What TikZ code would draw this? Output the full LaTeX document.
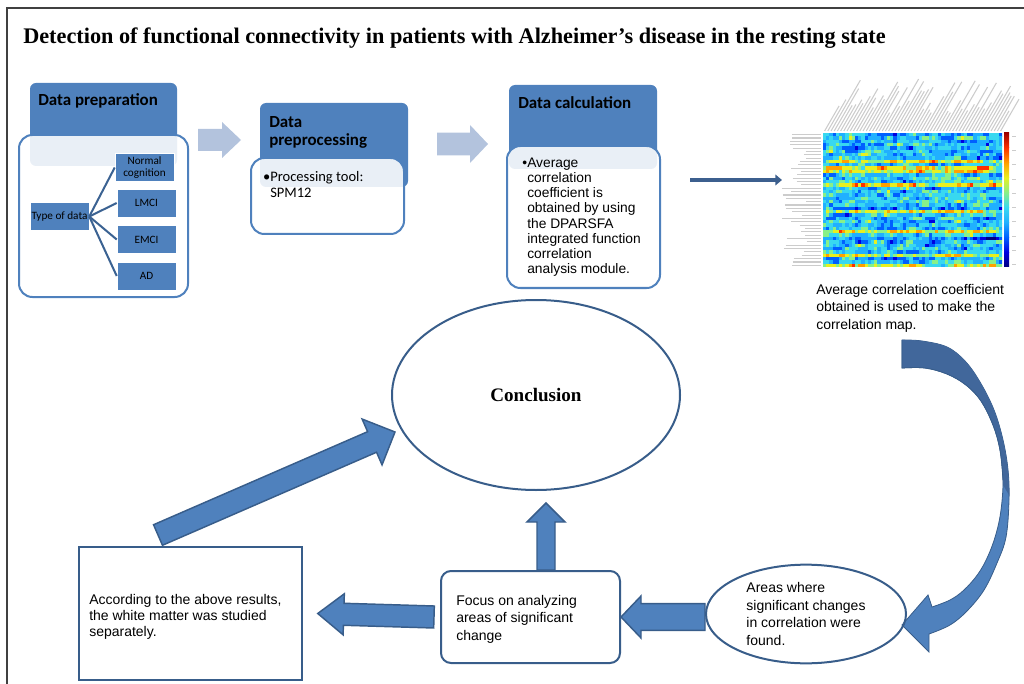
\documentclass[tikz,border=0pt]{standalone}
\usepackage{fontspec}
\setmainfont{Liberation Serif}
\newfontfamily\arial{Liberation Sans}
\newfontfamily\calib{Carlito}
\usetikzlibrary{calc,fit,shapes.geometric,arrows.meta}
\definecolor{hdr}{HTML}{4F81BD}
\definecolor{bord}{HTML}{385D8A}
\definecolor{lightarr}{HTML}{B3C3DD}
\definecolor{darkarr}{HTML}{3C5F8E}
\definecolor{curvdark}{HTML}{41679B}
\definecolor{hm0}{HTML}{00007F}
\definecolor{hm1}{HTML}{0000E0}
\definecolor{hm2}{HTML}{0060FF}
\definecolor{hm3}{HTML}{20B0FF}
\definecolor{hm4}{HTML}{38D8F0}
\definecolor{hm5}{HTML}{88F088}
\definecolor{hm6}{HTML}{E8F020}
\definecolor{hm7}{HTML}{FFA000}
\definecolor{hm8}{HTML}{FF3000}
\definecolor{hm9}{HTML}{A00000}
\newcommand\blockarrow[6][]{%
  \coordinate (bahead) at ($(#3)!#6!(#2)$);
  \path[#1] ($(#2)!#4!90:(#3)$) -- ($(bahead)!#4!90:(#3)$) -- ($(bahead)!#5!90:(#3)$) -- (#3)
    -- ($(bahead)!#5!-90:(#3)$) -- ($(bahead)!#4!-90:(#3)$) -- ($(#2)!#4!-90:(#3)$) -- cycle;}
\tikzset{
  hdrbox/.style={fill=hdr, draw=none, rounded corners=4.5pt, inner sep=0pt},
  lowbox/.style={fill=white, fill opacity=0.88, draw=hdr, line width=1.5pt, rounded corners=10pt, inner sep=0pt},
  subbox/.style={rectangle, fill=hdr, draw=white, line width=0.4pt, inner sep=0pt, align=center, text=black,
    minimum width=44.25pt, minimum height=21pt, font=\calib\fontsize{8.4}{9.6}\selectfont},
  conn/.style={draw=bord!85!hdr, line width=1.5pt},
  lightarrow/.style={fill=lightarr},
  bluearrow/.style={fill=hdr, draw=bord, line width=1.1pt, line join=miter},
  hdrtext/.style={font=\calib\bfseries\fontsize{12.7}{14}\selectfont, inner sep=0pt, align=left},
  bodytext/.style={font=\arial\fontsize{10.5}{13.1}\selectfont, inner sep=0pt, align=left},
  outline/.style={draw=bord, line width=1.5pt},
  lbl/.style={draw=gray!40, line width=0.8pt},
}
\begin{document}
\begin{tikzpicture}[x=0.75pt,y=-0.75pt]
\useasboundingbox (0,0) rectangle (1024,684);
% frame
\draw[line width=0.9pt, black!75] (7,684) -- (7,8) -- (1024,8);
% title
\node[anchor=base west, inner sep=0pt, font=\bfseries\fontsize{16.7}{20}\selectfont] (title) at (23,44)
  {Detection of functional connectivity in patients with Alzheimer’s disease in the resting state};

% ---------- Data preparation ----------
\node[hdrbox, fit={(30,83) (177,166)}] (prepH) {};
\node[lowbox, fit={(19,135) (188,297)}] (prepB) {};
\node[hdrtext, anchor=base west] (prepT) at (38,106) {Data preparation};
\node[subbox] (tod) at (59.5,216.5) {Type of data};
\node[subbox] (nc) at (144.5,167.5) {Normal\\cognition};
\node[subbox] (lmci) at (146.5,203) {LMCI};
\node[subbox] (emci) at (146.5,239.5) {EMCI};
\node[subbox] (ad) at (146.5,276) {AD};
\draw[conn] (tod.east) -- (nc.west);
\draw[conn] (tod.east) -- (lmci.west);
\draw[conn] (tod.east) -- (emci.west);
\draw[conn] (tod.east) -- (ad.west);

% step arrow 1
\coordinate (a1s) at (198,140);
\coordinate (a1e) at (241,140);
\blockarrow[lightarrow]{a1s}{a1e}{8.25pt}{13.5pt}{14.25pt}

% ---------- Data preprocessing ----------
\node[hdrbox, fit={(260,103) (408,187)}] (ppH) {};
\node[lowbox, fit={(251,158) (404,234)}] (ppB) {};
\node[hdrtext, anchor=north west] (ppT) at (269,116) {Data\\preprocessing};
\node[anchor=north west, inner sep=0pt, align=left, font=\calib\fontsize{10.9}{12}\selectfont] (ppX) at (270,171)
  {\llap{•}Processing tool:\\SPM12};

% step arrow 2
\coordinate (a2s) at (437,144);
\coordinate (a2e) at (488,144);
\blockarrow[lightarrow]{a2s}{a2e}{8.6pt}{14.25pt}{13.5pt}

% ---------- Data calculation ----------
\node[hdrbox, fit={(509,85) (657,169)}] (dcH) {};
\node[lowbox, fit={(507,146) (660,288)}] (dcB) {};
\node[hdrtext, anchor=base west] (dcT) at (518,109) {Data calculation};
\node[anchor=north west, inner sep=0pt, align=left, font=\arial\fontsize{10.35}{11.3}\selectfont] (dcX) at (527,158)
  {\llap{•}Average\\correlation\\coefficient is\\obtained by using\\the DPARSFA\\integrated function\\correlation\\analysis module.};

% ---------- correlation map ----------
\coordinate (maps) at (690,180);
\coordinate (mapt) at (782,180);
\draw[darkarr, line width=2.6pt, -{Triangle[length=5pt,width=8pt]}] (maps) -- (mapt);
\node[inner sep=0pt, fit={(823,133) (1002,267)}] (hm) {};
\begin{scope}
\clip (823,133) rectangle (1002,267);
\pgfmathsetseed{11}
\foreach \r in {0,...,39}{
  \pgfmathsetmacro\rb{rnd}
  \pgfmathsetmacro\sh{\rb>0.84 ? 0.25 : (\rb<0.08 ? -0.12 : 0)}
  \xdef\prev{0.4}
  \foreach \c in {0,...,55}{
    \pgfmathsetmacro\v{0.55*\prev+0.45*(0.4+\sh+0.07*sin(\c*97.3)+0.42*(rnd+rnd-1))}
    \xdef\prev{\v}
    \pgfmathtruncatemacro\k{max(0,min(9,floor(10*\v)))}
    \fill[hm\k] ({823+\c*3.2},{133+\r*3.35}) rectangle ++(3.5,3.65);
  }
}
\end{scope}
% row labels
\foreach \r in {0,...,39}{
  \pgfmathsetmacro\L{14+26*rnd}
  \draw[lbl] ({821-\L},{133+(\r+0.5)*3.35}) -- (821,{133+(\r+0.5)*3.35});
}
% column labels
\foreach \c in {0,...,55}{
  \pgfmathsetmacro\L{20+42*rnd}
  \draw[lbl] ({824.6+\c*3.2},131) -- ++({0.5*\L},{-0.866*\L});
}
% colour bar
\foreach \i in {0,...,8}{
  \pgfmathtruncatemacro\j{\i+1}
  \shade[bottom color=hm\i, top color=hm\j] (1004,{267-(\i+1)*14.89}) rectangle (1009,{267-\i*14.89});
}
\foreach \i in {0,...,9}{
  \draw[lbl, line width=0.5pt] (1012,{136+\i*14.3}) -- (1016,{136+\i*14.3});
}
\node[bodytext, anchor=north west] (mapX) at (816,284)
  {Average correlation coefficient\\obtained is used to make the\\correlation map.};

% ---------- curved arrow ----------
\fill[hdr, draw=bord, line width=0.6pt]
  plot[smooth, tension=0.6] coordinates {(902,340) (922,341) (947,347) (965,361) (980,382) (994,410) (1003,440) (1008,470) (1009,500) (1006,537) (997,563) (984,590) (967,611) (950,625) (929,634)}
  -- (929,652) -- (902,625) -- (928,595) --
  plot[smooth, tension=0.6] coordinates {(932,607) (950,600) (964,590) (978,574) (988,556) (996,534) (1001,510) (1003,480) (1000,450) (993,425) (981,401) (966,385) (947,374) (925,368) (902,368)}
  -- cycle;
\fill[curvdark]
  plot[smooth, tension=0.6] coordinates {(902,340) (922,341) (947,347) (965,361) (980,382) (994,410) (1003,440) (1008,470) (1009,495)}
  -- plot[smooth, tension=0.6] coordinates {(1003,485) (1000,450) (993,425) (981,401) (966,385) (947,374) (925,368) (902,368)}
  -- cycle;
\draw[bord, line width=0.6pt]
  plot[smooth, tension=0.6] coordinates {(1003,480) (1000,450) (993,425) (981,401) (966,385) (947,374) (925,368) (902,368)}
  -- (902,340);

% ---------- lower row ----------
\node[ellipse, outline, minimum width=216pt, minimum height=142.5pt, inner sep=0pt,
  font=\bfseries\fontsize{14.3}{16}\selectfont] (concl) at (536,395) {Conclusion};
\node[ellipse, outline, minimum width=150pt, minimum height=74pt, inner sep=0pt, bodytext] (areas) at (806,614)
  {Areas where\\significant changes\\in correlation were\\found.};
\node[outline, fill=white, rounded corners=7.5pt, inner sep=0pt, fit={(441,571) (620,663)}] (focus) {};
\node[bodytext, anchor=north west] (focusT) at (456,595)
  {Focus on analyzing\\areas of significant\\change};
\node[draw=bord, line width=1.1pt, inner sep=0pt, fit={(79,547) (302,680)}] (accord) {};
\node[bodytext, anchor=north west, font=\arial\fontsize{10.5}{12.2}\selectfont] (accordT) at (89,594)
  {According to the above results,\\the white matter was studied\\separately.};

% block arrows
\coordinate (a3s) at (areas.west |- focus.east);
\blockarrow[bluearrow]{a3s}{focus.east}{10.1pt}{15.75pt}{15pt}
\coordinate (a4s) at ($(focus.west)+(-6,0)$);
\coordinate (a4e) at ($(accord.east)+(15,0)$);
\blockarrow[bluearrow]{a4s}{a4e}{8.25pt}{15.4pt}{19.5pt}
\coordinate (a5s) at ($(focus.north)+(15.5,0)$);
\coordinate (a5e) at ($(a5s)+(0,-67)$);
\blockarrow[bluearrow]{a5s}{a5e}{6.75pt}{14.25pt}{14.25pt}
\coordinate (a6s) at (158,535);
\coordinate (a6e) at (395,432);
\blockarrow[bluearrow]{a6s}{a6e}{8.4pt}{18.75pt}{18.75pt}
\end{tikzpicture}
\end{document}
